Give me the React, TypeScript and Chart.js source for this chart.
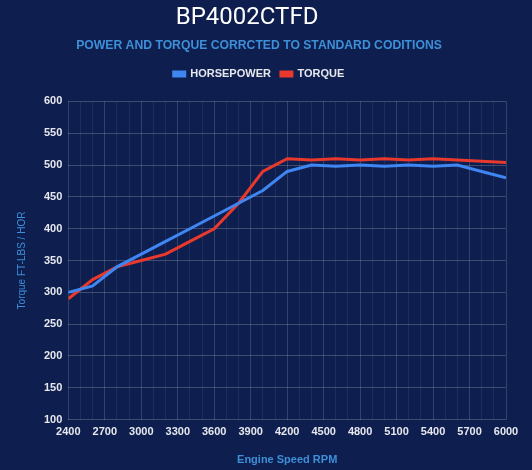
import React, { useEffect, useRef } from "react";
import { Chart, registerables } from "chart.js";

Chart.register(...registerables);

const rpm = [2400, 2600, 2800, 3000, 3200, 3400, 3600, 3800, 4000, 4200, 4400, 4600, 4800, 5000, 5200, 5400, 5600, 5800, 6000];
const horsepower = [300, 310, 340, 360, 380, 400, 420, 440, 460, 490, 500, 498, 500, 498, 500, 498, 500, 490, 480];
const torque = [290, 320, 340, 350, 360, 380, 400, 440, 490, 510, 508, 510, 508, 510, 508, 510, 508, 506, 504];
const xLabelStep = 300;

const BG = "#0e1e4e";

export default function App() {
  const ref = useRef<HTMLCanvasElement | null>(null);
  useEffect(() => {
    document.body.style.margin = "0";
    document.body.style.background = BG;
    const canvas = ref.current!;
    const bgPlugin = {
      id: "bg",
      beforeDraw(chart: any) {
        const c = chart.ctx;
        c.save();
        c.fillStyle = BG;
        c.fillRect(0, 0, chart.width, chart.height);
        c.restore();
      },
    };
    const legendMargin = {
      id: "legendMargin",
      beforeInit(chart: any) {
        const lg = chart.legend;
        if (!lg) return;
        const fit = lg.fit;
        lg.fit = function () {
          fit.bind(lg)();
          lg.height += 12;
        };
      },
    };
    const chart = new Chart(canvas, {
      type: "line",
      data: {
        datasets: [
          {
            label: "HORSEPOWER",
            data: rpm.map((x, i) => ({ x, y: horsepower[i] })),
            borderColor: "#3f86f2",
            backgroundColor: "#3f86f2",
            borderWidth: 3,
            pointRadius: 0,
            tension: 0,
          },
          {
            label: "TORQUE",
            data: rpm.map((x, i) => ({ x, y: torque[i] })),
            borderColor: "#e8392c",
            backgroundColor: "#e8392c",
            borderWidth: 3,
            pointRadius: 0,
            tension: 0,
          },
        ],
      },
      options: {
        animation: false,
        responsive: false,
        layout: { padding: { left: 12, right: 26, top: 4, bottom: 3 } },
        plugins: {
          title: {
            display: true,
            text: "BP4002CTFD    ",
            color: "#ffffff",
            font: { family: "Roboto", size: 24, weight: "normal" },
            padding: { top: 0, bottom: 6 },
          },
          subtitle: {
            display: true,
            text: "POWER AND TORQUE CORRCTED TO STANDARD CODITIONS",
            color: "#3d8fd8",
            font: { family: "Liberation Sans", size: 12.2, weight: "bold" },
            padding: { top: 0, bottom: 5 },
          },
          legend: {
            display: true,
            labels: {
              color: "#e6e8ee",
              boxWidth: 11,
              boxHeight: 4,
              padding: 10,
              font: { family: "Liberation Sans", size: 11, weight: "bold" },
            },
          },
          tooltip: { enabled: false },
        },
        scales: {
          x: {
            type: "linear",
            min: 2400,
            max: 6000,
            ticks: {
              stepSize: 100,
              autoSkip: false,
              maxRotation: 0,
              color: "#e6e8ee",
              padding: 6,
              font: { family: "Liberation Sans", size: 11, weight: "bold" },
              callback: (v: any) => ((Number(v) - 2400) % xLabelStep === 0 ? String(v) : ""),
            },
            grid: {
              drawTicks: false,
              color: (ctx: any) =>
                ctx.tick && (ctx.tick.value - 2400) % xLabelStep === 0
                  ? "rgba(255,255,255,0.16)"
                  : "rgba(255,255,255,0.07)",
            },
            border: { display: false },
            title: {
              display: true,
              text: "Engine Speed RPM",
              color: "#3d8fd8",
              font: { family: "Liberation Sans", size: 11, weight: "bold" },
              padding: { top: 9, bottom: 0 },
            },
          },
          y: {
            min: 100,
            max: 600,
            ticks: {
              stepSize: 50,
              color: "#e6e8ee",
              padding: 6,
              font: { family: "Liberation Sans", size: 11, weight: "bold" },
            },
            grid: { drawTicks: false, color: "rgba(255,255,255,0.2)" },
            border: { display: false },
            title: {
              display: true,
              text: "Torque FT-LBS / HOR",
              color: "#3d8fd8",
              font: { family: "Liberation Sans", size: 10, weight: "normal" },
              padding: { top: 4, bottom: 10 },
            },
          },
        },
      },
      plugins: [bgPlugin, legendMargin],
    } as any);
    return () => chart.destroy();
  }, []);
  return <canvas ref={ref} width={532} height={470} style={{ display: "block" }} />;
}
